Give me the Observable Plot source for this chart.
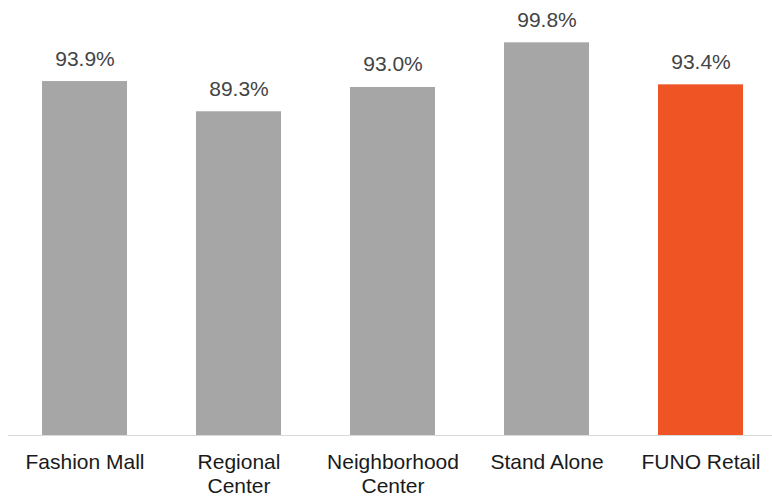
<!DOCTYPE html>
<html>
<head>
<meta charset="utf-8">
<script src="https://cdn.jsdelivr.net/npm/d3@7"></script>
<script src="https://cdn.jsdelivr.net/npm/@observablehq/plot@0.6"></script>
<style>
  html, body { margin: 0; padding: 0; background: #ffffff; }
  #chart svg { display: block; }
</style>
</head>
<body>
<div id="chart"></div>
<script>
// Occupancy rate by retail property segment
const categories = ["Fashion Mall", "Regional Center", "Neighborhood Center", "Stand Alone", "FUNO Retail"];
const tickLabels = ["Fashion Mall", "Regional\nCenter", "Neighborhood\nCenter", "Stand Alone", "FUNO Retail"];
const occupancy = [93.9, 89.3, 93.0, 99.8, 93.4];
const highlighted = ["FUNO Retail"];

const yFloor = 40;   // value axis starts here
const yCeil = 100;

const rows = categories.map((c, i) => ({
  category: c,
  value: occupancy[i],
  label: occupancy[i].toFixed(1) + "%"
}));

const labelOf = new Map(categories.map((c, i) => [c, tickLabels[i]]));

const chart = Plot.plot({
  width: 772,
  height: 497,
  marginTop: 41,
  marginBottom: 62,
  marginLeft: 8,
  marginRight: -6,
  style: { fontFamily: "'Liberation Sans', Arial, sans-serif", background: "#ffffff" },
  x: { domain: categories, paddingInner: 0.448, paddingOuter: 0.224, align: 0.5 },
  y: { domain: [yFloor, yCeil], axis: null },
  marks: [
    Plot.barY(rows, {
      x: "category",
      y1: yFloor,
      y2: "value",
      fill: d => highlighted.includes(d.category) ? "#ef5424" : "#a6a6a6"
    }),
    Plot.ruleY([yFloor], { stroke: "#d9d9d9", strokeWidth: 1.2 }),
    Plot.text(rows, {
      x: "category",
      y: "value",
      text: "label",
      lineAnchor: "bottom",
      dy: -16,
      fontSize: 21,
      fill: "#444444"
    }),
    Plot.axisX({
      tickSize: 0,
      tickPadding: 16,
      fontSize: 21,
      lineHeight: 1.15,
      fill: "#1a1a1a",
      tickFormat: d => labelOf.get(d),
      label: null
    })
  ]
});

document.getElementById("chart").appendChild(chart);
</script>
</body>
</html>
